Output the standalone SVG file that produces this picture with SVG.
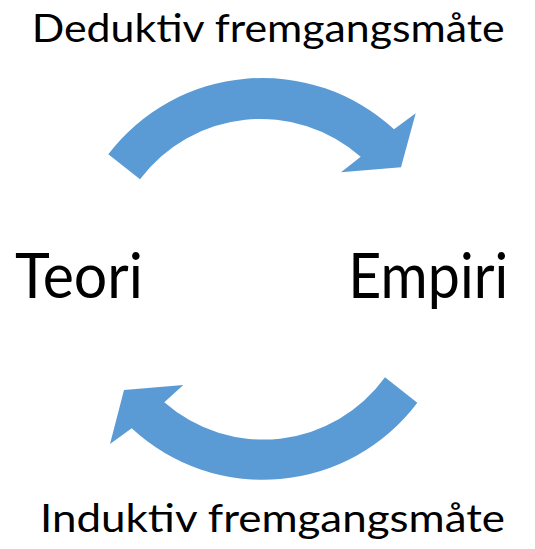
<svg xmlns="http://www.w3.org/2000/svg" width="535" height="549" viewBox="0 0 535 549">
<style>
.lbl{font-family:Lato,"Open Sans","Liberation Sans",sans-serif;fill:#000}
.t{font-size:39px}
.n{font-size:61px}
.arrow{fill:#5B9BD5}
</style>
<rect width="535" height="549" fill="#fff"/>
<g id="teori"><text class="lbl n" x="15" y="298.3" textLength="128" lengthAdjust="spacingAndGlyphs">Teori</text></g>
<g id="empiri"><text class="lbl n" x="348.3" y="298.3" textLength="160" lengthAdjust="spacingAndGlyphs">Empiri</text></g>
<g id="connectors">
<g id="deduktiv">
<path class="arrow" d="M108.3,154.3 A194,194 0 0 1 394,129.3 L415.7,113.3 L401,167.3 L341,172.3 L360.7,156.7 A151,151 0 0 0 140,179.3 Z"/>
<text class="lbl t" x="31.7" y="41.7" textLength="473" lengthAdjust="spacingAndGlyphs">Deduktiv fremgangsmåte</text>
</g>
<g id="induktiv">
<path class="arrow" d="M417.3,402.7 A193,193 0 0 1 131.7,428.3 L110,444 L124,390 L183.3,385 L164.3,402.3 A150,150 0 0 0 385,377.3 Z"/>
<text class="lbl t" x="40" y="532.3" textLength="465" lengthAdjust="spacingAndGlyphs">Induktiv fremgangsmåte</text>
</g>
</g>
</svg>
